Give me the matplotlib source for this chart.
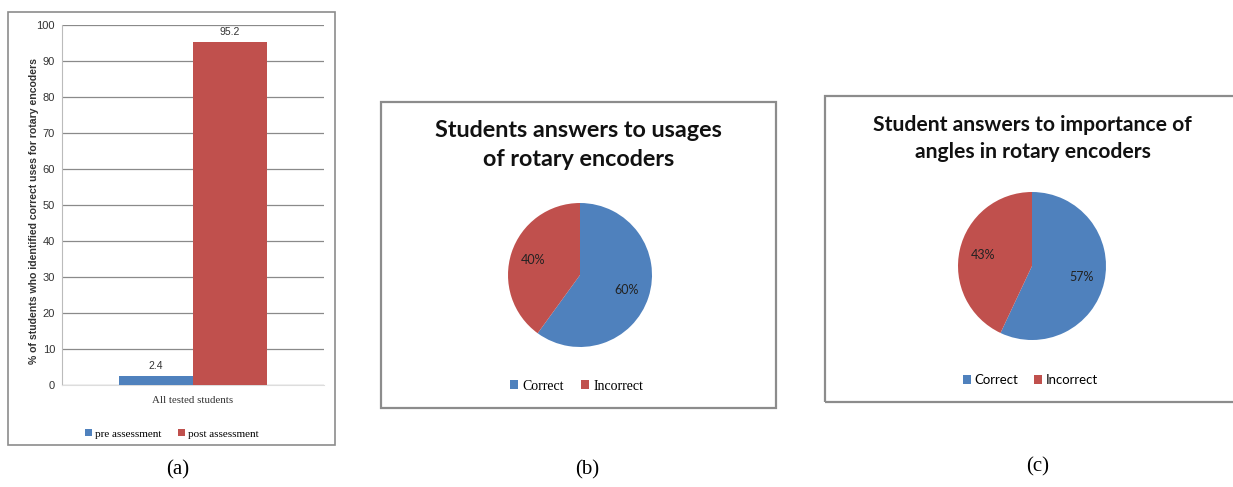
import matplotlib
matplotlib.use("Agg")
import matplotlib.pyplot as plt
from matplotlib.patches import Rectangle

# ---- data ----
bar_category = ["All tested students"]
bar_series = ["pre assessment", "post assessment"]
bar_values = [2.4, 95.2]
bar_ylabel = "% of students who identified correct uses for rotary encoders"
y_ticks = [0, 10, 20, 30, 40, 50, 60, 70, 80, 90, 100]

pie_labels = ["Correct", "Incorrect"]
usage_values = [60, 40]
usage_title = "Students answers to usages\nof rotary encoders"
angle_values = [57, 43]
angle_title = "Student answers to importance of\nangles in rotary encoders"

captions = ["(a)", "(b)", "(c)"]

BLUE = "#4F81BD"
RED = "#C0504D"

W, H = 1233, 487
fig = plt.figure(figsize=(W / 100, H / 100), dpi=100)


def rect(x0, y0, x1, y1):
    """Pixel box (top-left origin) -> figure fraction [l, b, w, h]."""
    return [x0 / W, (H - y1) / H, (x1 - x0) / W, (y1 - y0) / H]


def frame(x0, y0, x1, y1, lw=1.2, color="#8c8c8c"):
    l, b, w, h = rect(x0, y0, x1, y1)
    fig.patches.append(Rectangle((l, b), w, h, transform=fig.transFigure,
                                 fill=False, edgecolor=color, linewidth=lw))


# ---- panel (a): bar chart ----
frame(8, 12, 335, 445)
ax = fig.add_axes(rect(62, 25, 324, 385))
width = 0.283
xs = [-width / 2, width / 2]
for x, v, c, name in zip(xs, bar_values, [BLUE, RED], bar_series):
    ax.bar(x, v, width=width, color=c, label=name, zorder=3)
    ax.text(x, v + 1.5, f"{v:g}", ha="center", va="bottom", fontsize=7.5,
            color="#333333", family="Liberation Sans")
ax.set_xlim(-0.5, 0.5)
ax.set_ylim(0, 100)
ax.set_yticks(y_ticks)
ax.set_yticklabels([str(t) for t in y_ticks], fontsize=8,
                   family="Liberation Sans", color="#333333")
ax.yaxis.grid(True, color="#8a8a8a", linewidth=0.9, zorder=0)
ax.tick_params(axis="y", length=0, pad=5)
ax.set_xticks([0])
ax.set_xticklabels(bar_category, fontsize=7.8, family="Liberation Serif",
                   color="#333333")
ax.tick_params(axis="x", length=0, pad=8)
for s in ["top", "right"]:
    ax.spines[s].set_visible(False)
ax.spines["left"].set_color("#bbbbbb")
ax.spines["bottom"].set_color("#dddddd")
ax.set_ylabel(bar_ylabel, fontsize=7.6, fontweight="bold",
              family="Liberation Sans", color="#333333")
ax.yaxis.set_label_coords(-0.088, 0.482)
leg = ax.legend(loc="upper center", bbox_to_anchor=(0.42, -0.095), ncol=2,
                frameon=False, handlelength=0.6, handleheight=0.6,
                columnspacing=1.5, handletextpad=0.3,
                prop={"family": "Liberation Serif", "size": 8})


# ---- panels (b) and (c): pie charts ----
def pie_panel(box, pie_box, title, title_y, values, fs, spacing, legend_y,
              leg_family, leg_size):
    frame(*box, lw=1.6)
    axp = fig.add_axes(rect(*pie_box))
    wedges, _, autotexts = axp.pie(
        values, colors=[BLUE, RED], startangle=90, counterclock=False,
        autopct="%d%%", pctdistance=0.68, wedgeprops={"linewidth": 0})
    for t in autotexts:
        t.set_fontsize(9)
        t.set_family("Lato")
        t.set_color("#222222")
    axp.set_xlim(-1, 1)
    axp.set_ylim(-1, 1)
    axp.set_aspect("equal")
    cx = (box[0] + box[2]) / 2
    fig.text(cx / W, 1 - title_y / H, title, ha="center", va="top",
             fontsize=fs, fontweight="bold", family="Lato",
             linespacing=spacing, color="#111111")
    fig.legend(wedges, pie_labels, loc="center",
               bbox_to_anchor=((cx - 2) / W, 1 - legend_y / H), ncol=2,
               frameon=False, handlelength=0.6, handleheight=0.6,
               handletextpad=0.3, columnspacing=1.2,
               prop={"family": leg_family, "size": leg_size})


pie_panel((381, 102, 776, 408), (508, 203, 652, 347), usage_title, 120,
          usage_values, 16.8, 1.5, 386, "Liberation Serif", 10)
pie_panel((825, 96, 1240, 402), (958, 192, 1106, 340), angle_title, 115,
          angle_values, 15.2, 1.41, 380, "Lato", 9.5)

# ---- captions ----
for cx, cy, cap in zip([178, 587, 1038], [470, 470, 467], captions):
    fig.text(cx / W, 1 - cy / H, cap, ha="center", va="center",
             fontsize=15, family="Liberation Serif")

fig.savefig("out.png", dpi=100, facecolor="white")
